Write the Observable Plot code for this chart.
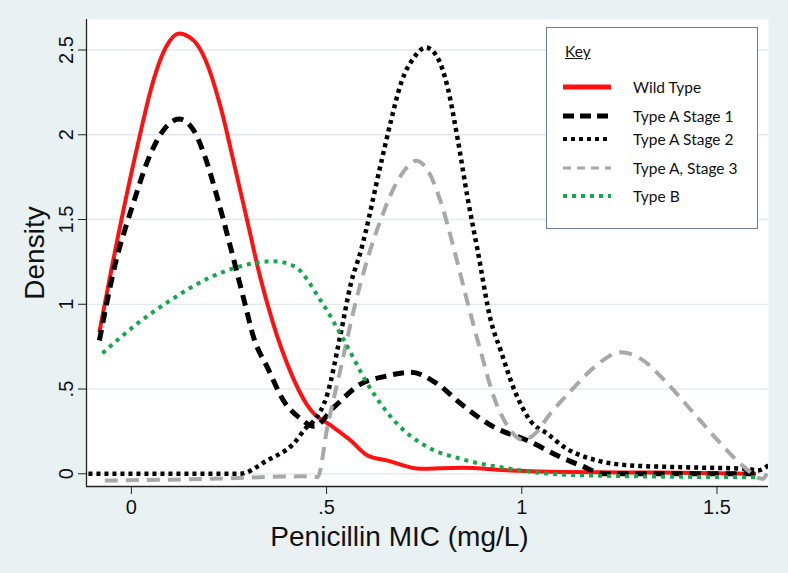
<!DOCTYPE html>
<html>
<head>
<meta charset="utf-8">
<script src="https://cdn.jsdelivr.net/npm/d3@7"></script>
<script src="https://cdn.jsdelivr.net/npm/@observablehq/plot@0.6"></script>
<style>
  html, body { margin: 0; padding: 0; background: #e9f1f3; }
  #wrap { position: relative; width: 788px; height: 573px; overflow: hidden; }
  #legend {
    position: absolute; left: 546px; top: 27px; width: 212px; height: 202px;
    box-sizing: border-box; border: 1.5px solid #6a7ea8; background: #ffffff;
    font-family: Lato, "Open Sans", sans-serif; font-size: 15.5px; color: #111;
  }
  #legend .key { position: absolute; left: 18px; top: 14px; text-decoration: underline; font-size: 15.5px; }
  #legend .row { position: absolute; left: 16px; height: 20px; display: flex; align-items: center; }
  #legend .row svg { width: 48px; height: 10px; }
  #legend .row span { position: absolute; left: 70px; white-space: nowrap; }
</style>
</head>
<body>
<div id="wrap"></div>
<script>
// ---------- data ----------
const seriesNames = ["Wild Type", "Type A Stage 1", "Type A Stage 2", "Type A, Stage 3", "Type B"];

const wildX = [-0.082, -0.029, 0.024, 0.049, 0.088, 0.122, 0.16, 0.19, 0.229, 0.263, 0.297, 0.331, 0.364, 0.406, 0.449, 0.468, 0.511, 0.562, 0.605, 0.656, 0.741, 0.844, 0.972, 1.1, 1.25, 1.4, 1.6];
const wildY = [0.835, 1.46, 2.02, 2.26, 2.515, 2.598, 2.555, 2.44, 2.16, 1.83, 1.49, 1.15, 0.88, 0.61, 0.41, 0.354, 0.285, 0.196, 0.108, 0.078, 0.029, 0.035, 0.019, 0.01, 0.008, 0.006, 0.0];

const stage1X = [-0.082, -0.04, 0.0, 0.049, 0.088, 0.122, 0.16, 0.186, 0.22, 0.254, 0.289, 0.313, 0.35, 0.39, 0.434, 0.468, 0.519, 0.588, 0.65, 0.716, 0.784, 0.844, 0.929, 1.015, 1.1, 1.15, 1.211, 1.4, 1.6];
const stage1Y = [0.786, 1.25, 1.56, 1.887, 2.044, 2.093, 2.024, 1.887, 1.63, 1.336, 1.02, 0.805, 0.62, 0.43, 0.324, 0.28, 0.393, 0.53, 0.575, 0.599, 0.53, 0.413, 0.275, 0.196, 0.098, 0.05, 0.0, 0.0, 0.0];

const stage2X = [-0.11, 0.278, 0.347, 0.415, 0.449, 0.468, 0.502, 0.536, 0.562, 0.588, 0.639, 0.665, 0.69, 0.724, 0.754, 0.784, 0.81, 0.835, 0.861, 0.887, 0.921, 0.946, 0.98, 1.023, 1.066, 1.109, 1.194, 1.28, 1.408, 1.579, 1.605, 1.632];
const stage2Y = [0.0, 0.0, 0.078, 0.177, 0.275, 0.314, 0.47, 0.825, 1.12, 1.317, 1.828, 2.083, 2.30, 2.456, 2.515, 2.456, 2.28, 1.985, 1.63, 1.317, 0.9, 0.727, 0.5, 0.31, 0.236, 0.157, 0.078, 0.049, 0.039, 0.029, 0.02, 0.05];

const stage3X = [-0.068, 0.2, 0.44, 0.477, 0.502, 0.536, 0.57, 0.605, 0.639, 0.673, 0.707, 0.729, 0.759, 0.793, 0.827, 0.86, 0.895, 0.929, 0.964, 1.003, 1.04, 1.066, 1.126, 1.186, 1.254, 1.305, 1.374, 1.442, 1.51, 1.57, 1.617, 1.635];
const stage3Y = [-0.04, -0.03, -0.015, -0.02, 0.275, 0.62, 0.97, 1.27, 1.5, 1.69, 1.81, 1.847, 1.79, 1.6, 1.32, 1.02, 0.72, 0.45, 0.28, 0.2, 0.25, 0.334, 0.49, 0.629, 0.717, 0.678, 0.53, 0.354, 0.177, 0.039, -0.03, 0.05];

const typeBX = [-0.074, 0.014, 0.099, 0.185, 0.27, 0.364, 0.417, 0.485, 0.545, 0.605, 0.673, 0.759, 0.844, 0.972, 1.1, 1.3, 1.6];
const typeBY = [0.711, 0.884, 1.022, 1.14, 1.218, 1.254, 1.225, 1.022, 0.786, 0.53, 0.314, 0.157, 0.088, 0.029, -0.004, -0.015, -0.02];

const xTicks = [0, 0.5, 1, 1.5];
const yTicks = [0, 0.5, 1, 1.5, 2, 2.5];
const xTitle = "Penicillin MIC (mg/L)";
const yTitle = "Density";
const legendTitle = "Key";

// ---------- styles ----------
const styles = [
  { stroke: "#ff1111", width: 4,   dash: null },
  { stroke: "#000000", width: 5,   dash: "11,7" },
  { stroke: "#000000", width: 4.5, dash: "4,4" },
  { stroke: "#a8a8a8", width: 4,   dash: "13,8" },
  { stroke: "#14a84b", width: 4,   dash: "4,5" }
];
const xs = [wildX, stage1X, stage2X, stage3X, typeBX];
const ys = [wildY, stage1Y, stage2Y, stage3Y, typeBY];

const rows = seriesNames.flatMap((name, k) => xs[k].map((x, i) => ({ series: name, x, y: ys[k][i] })));

const fmt = d => d === 0 ? "0" : (d < 1 ? String(d).replace(/^0/, "") : String(d));

const xDomain = [-0.115, 1.632];
const yDomain = [-0.075, 2.68];

const lineMarks = seriesNames.map((name, k) => Plot.line(rows.filter(r => r.series === name), {
  x: "x", y: "y",
  stroke: styles[k].stroke,
  strokeWidth: styles[k].width,
  strokeDasharray: styles[k].dash,
  strokeLinecap: "butt",
  strokeLinejoin: "round",
  curve: "monotone-x",
  clip: true
}));

const chart = Plot.plot({
  width: 788,
  height: 573,
  marginLeft: 86,
  marginRight: 20,
  marginTop: 19,
  marginBottom: 87,
  style: { background: "transparent", fontFamily: "'Liberation Sans', Arial, sans-serif", color: "#111" },
  x: { domain: xDomain },
  y: { domain: yDomain },
  marks: [
    Plot.frame({ fill: "#ffffff", stroke: null }),
    Plot.gridY(yTicks, { stroke: "#dfe9ed", strokeOpacity: 1, strokeWidth: 1.3 }),
    ...lineMarks,
    Plot.ruleX([xDomain[0]], { stroke: "#222", strokeWidth: 1.3 }),
    Plot.ruleY([yDomain[0]], { stroke: "#222", strokeWidth: 1.3 }),
    Plot.axisX(xTicks, { tickFormat: fmt, tickSize: 8, tickPadding: 5, fontSize: 20, label: null, stroke: "#222" }),
    Plot.axisY(yTicks, { tickFormat: fmt, tickSize: 8, tickPadding: 6, tickRotate: -90, fontSize: 20, label: null, stroke: "#222" }),
    Plot.text([xTitle], { text: d => d, frameAnchor: "bottom", textAnchor: "middle", dx: -28, dy: 59, fontSize: 28 }),
    Plot.text([yTitle], { text: d => d, frameAnchor: "left", textAnchor: "middle", rotate: -90, dx: -51, dy: 0, fontSize: 28 })
  ]
});

const wrap = document.getElementById("wrap");
wrap.appendChild(chart);

// ---------- legend (HTML overlay) ----------
const legend = document.createElement("div");
legend.id = "legend";
const key = document.createElement("div");
key.className = "key";
key.textContent = legendTitle;
legend.appendChild(key);
const rowTops = [49, 78, 101, 130, 158];
const legendDash = [null, "11,6", "4,4", "8,6", "4,5"];
const legendWidth = [5, 5, 4, 3, 4];
seriesNames.forEach((name, k) => {
  const r = document.createElement("div");
  r.className = "row";
  r.style.top = rowTops[k] + "px";
  r.innerHTML = `<svg viewBox="0 0 48 10"><line x1="0" y1="5" x2="48" y2="5" stroke="${styles[k].stroke}" stroke-width="${legendWidth[k]}" ${legendDash[k] ? `stroke-dasharray="${legendDash[k]}"` : ""}/></svg><span>${name}</span>`;
  legend.appendChild(r);
});
wrap.appendChild(legend);
</script>
</body>
</html>
